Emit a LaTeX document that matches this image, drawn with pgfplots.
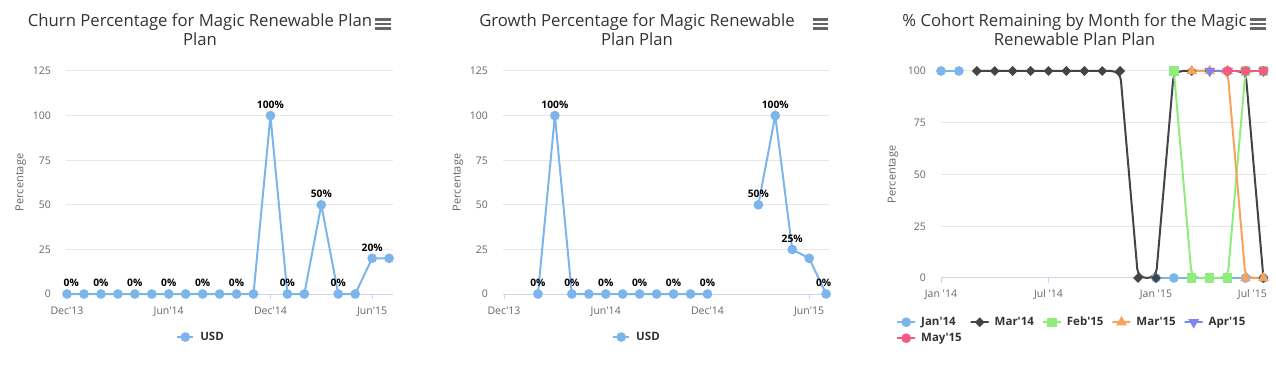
\documentclass[border=0pt]{standalone}
\usepackage{fontspec}
\setmainfont{Open Sans}
\usepackage{pgfplots}
\pgfplotsset{compat=1.18}
\definecolor{cA}{HTML}{7CB5EC}
\definecolor{cB}{HTML}{434348}
\definecolor{cC}{HTML}{90ED7D}
\definecolor{cD}{HTML}{F7A35C}
\definecolor{cE}{HTML}{8085E9}
\definecolor{cF}{HTML}{F15C80}
\definecolor{gridc}{HTML}{E6E6E6}
\definecolor{axisc}{HTML}{CCD6EB}
\definecolor{labc}{HTML}{666666}
\definecolor{titc}{HTML}{333333}
\newcommand\q{\textquotesingle}
\pgfplotsset{
  hc/.style={
    scale only axis,
    anchor=south west,
    axis lines*=left,
    x axis line style={draw=axisc, line width=1pt},
    y axis line style={draw=none},
    tick align=outside,
    major tick length=5pt,
    xtick style={draw=axisc, line width=1pt},
    ytick style={draw=none},
    ymajorgrids,
    grid style={draw=gridc, line width=1pt},
    /pgf/number format/assume math mode=true,
    ticklabel style={font=\fontsize{10.5pt}{12pt}\selectfont, text=labc, inner sep=0pt},
    xticklabel style={anchor=base, yshift=-15pt},
    yticklabel style={anchor=base east, xshift=-10pt, yshift=-4pt},
    ylabel={Percentage},
    every axis y label/.style={at={(axis description cs:-0.138,0.5)}, rotate=90, anchor=center, font=\fontsize{11pt}{13pt}\selectfont, text=labc},
    clip=false,
    legend style={draw=none, fill=none, inner sep=0pt, font=\bfseries\fontsize{11.5pt}{13pt}\selectfont, text=titc, anchor=center, nodes={inner sep=0pt}, legend cell align=left, /tikz/every odd column/.append style={column sep=6pt}},
    legend image code/.code={\draw[#1, mark repeat=2, mark phase=2] plot coordinates {(0pt,0pt) (8pt,0pt) (16pt,0pt)};},
  },
  dl/.style={draw=none, forget plot, nodes near coords, point meta=explicit symbolic,
    every node near coord/.style={anchor=base, yshift=7pt, font=\bfseries\fontsize{10.3pt}{12pt}\selectfont, text=black, inner sep=0pt}},
  ln/.style={#1, line width=2pt, mark=*, mark size=3.8pt, mark options={draw=none, fill=#1}},
}
\begin{document}
\begin{tikzpicture}
\path[use as bounding box] (0,0) rectangle (1276pt,369pt);
% titles
\node[font=\fontsize{16.7pt}{19pt}\selectfont, text=titc, align=center] at (200pt,339.5pt) {Churn Percentage for Magic Renewable Plan\\Plan};
\node[font=\fontsize{16.7pt}{19pt}\selectfont, text=titc, align=center] at (637pt,339.5pt) {Growth Percentage for Magic Renewable\\Plan Plan};
\node[font=\fontsize{16.7pt}{19pt}\selectfont, text=titc, align=center] at (1074.5pt,339.5pt) {\% Cohort Remaining by Month for the Magic\\Renewable Plan Plan};
% menu icons
\foreach \yy in {349.7,345,340.3}{
  \draw[labc, line width=2.6pt] (375pt,\yy pt) -- (391pt,\yy pt);
  \draw[labc, line width=2.6pt] (812.5pt,\yy pt) -- (828pt,\yy pt);
  \draw[labc, line width=2.6pt] (1250pt,\yy pt) -- (1265.5pt,\yy pt);
}
% ---------- Chart 1 ----------
\begin{axis}[hc, at={(66pt,75pt)}, width=327pt, height=223pt,
  xmin=-0.06, xmax=19.23, ymin=0, ymax=125, ytick={0,25,...,125},
  xtick={0,6,12,18}, xticklabels={Dec\q13,Jun\q14,Dec\q14,Jun\q15},
  legend style={at={(axis description cs:0.41,-0.193)}}]
\addplot[ln=cA] coordinates {(0,0)(1,0)(2,0)(3,0)(4,0)(5,0)(6,0)(7,0)(8,0)(9,0)(10,0)(11,0)(12,100)(13,0)(14,0)(15,50)(16,0)(17,0)(18,20)(19,20)};
\addlegendentry{USD}
\addplot[dl] coordinates {(0.25,0)[0\%] (2,0)[0\%] (4,0)[0\%] (6,0)[0\%] (8,0)[0\%] (10,0)[0\%] (12,100)[100\%] (13,0)[0\%] (15,50)[50\%] (16,0)[0\%] (18,20)[20\%]};
\end{axis}
% ---------- Chart 2 ----------
\begin{axis}[hc, at={(503pt,75pt)}, width=326pt, height=223pt,
  xmin=-0.06, xmax=19.17, ymin=0, ymax=125, ytick={0,25,...,125},
  xtick={0,6,12,18}, xticklabels={Dec\q13,Jun\q14,Dec\q14,Jun\q15},
  unbounded coords=jump,
  legend style={at={(axis description cs:0.408,-0.193)}}]
\addplot[ln=cA] coordinates {(2,0)(3,100)(4,0)(5,0)(6,0)(7,0)(8,0)(9,0)(10,0)(11,0)(12,0)(13,nan)(14,nan)(15,50)(16,100)(17,25)(18,20)(19,0)};
\addlegendentry{USD}
\addplot[dl] coordinates {(2,0)[0\%] (3,100)[100\%] (4,0)[0\%] (6,0)[0\%] (8,0)[0\%] (10,0)[0\%] (12,0)[0\%] (15,50)[50\%] (16,100)[100\%] (17,25)[25\%] (18.85,0)[0\%]};
\end{axis}
% ---------- Chart 3 ----------
\begin{axis}[hc, at={(941pt,91pt)}, width=326pt, height=207pt,
  xmin=0, xmax=18.2, ymin=0, ymax=100, ytick={0,25,...,100},
  xtick={0,6,12,18}, xticklabels={Jan \q14,Jul \q14,Jan \q15,\makebox[0pt][r]{Jul \q15\kern-3.5pt}},
  every axis y label/.append style={at={(axis description cs:-0.147,0.5)}},
  unbounded coords=jump,
  legend columns=5,
  legend style={at={(axis description cs:-0.135,-0.188)}, anchor=north west, row sep=6pt,
    /tikz/every even column/.append style={column sep=9pt}}]
\addplot[cA, line width=2pt, rounded corners=9pt, mark=*, mark size=3.8pt, mark options={sharp corners, draw=none, fill=cA}]
  coordinates {(0,100)(1,100)(2,nan)(12,0)(13,0)(14,0)(15,0)(16,0)(17,0)(18,0)};
\addlegendentry{Jan\q14}
\addplot[cB, line width=2pt, rounded corners=9pt, mark=square*, mark size=2.5pt, mark options={sharp corners, rotate=45, draw=none, fill=cB}]
  coordinates {(2,100)(3,100)(4,100)(5,100)(6,100)(7,100)(8,100)(9,100)(10,100)(11,0)(12,0)(13,100)(14,100)(15,100)(16,100)(17,100)(18,0)};
\addlegendentry{Mar\q14}
\addplot[cC, line width=2pt, rounded corners=9pt, mark=square*, mark size=3.7pt, mark options={sharp corners, draw=none, fill=cC}]
  coordinates {(13,100)(14,0)(15,0)(16,0)(17,100)(18,100)};
\addlegendentry{Feb\q15}
\addplot[cD, line width=2pt, rounded corners=9pt, mark=triangle*, mark size=4.3pt, mark options={sharp corners, draw=none, fill=cD}]
  coordinates {(14,100)(15,100)(16,100)(17,0)(18,0)};
\addlegendentry{Mar\q15}
\addplot[cE, line width=2pt, rounded corners=9pt, mark=triangle*, mark size=4.3pt, mark options={sharp corners, rotate=180, draw=none, fill=cE}]
  coordinates {(15,100)(16,100)(17,100)(18,100)};
\addlegendentry{Apr\q15}
\addplot[cF, line width=2pt, rounded corners=9pt, mark=*, mark size=3.8pt, mark options={sharp corners, draw=none, fill=cF}]
  coordinates {(16,100)(17,100)(18,100)};
\addlegendentry{May\q15}
\end{axis}
\end{tikzpicture}
\end{document}
